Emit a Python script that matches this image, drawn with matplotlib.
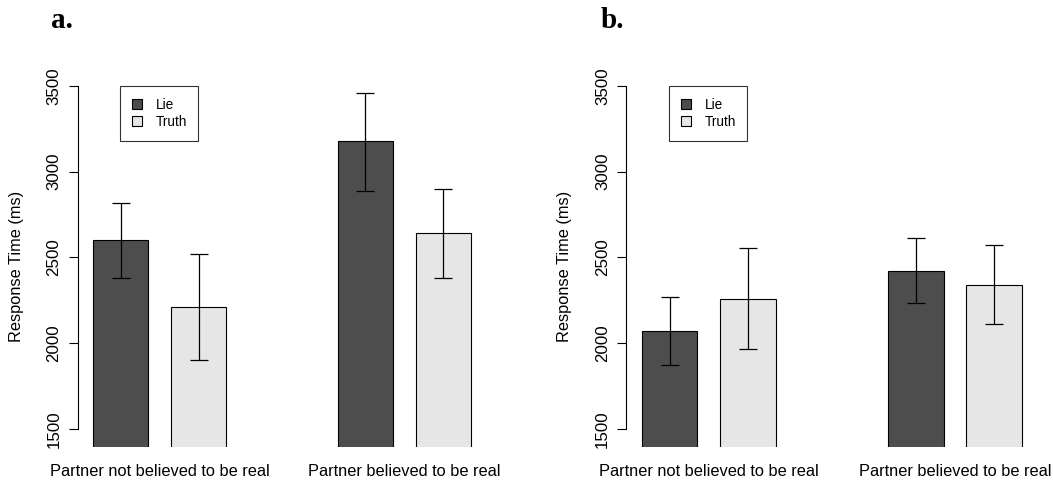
import matplotlib
matplotlib.use("Agg")
import matplotlib.pyplot as plt
from matplotlib.patches import Patch
from matplotlib.transforms import blended_transform_factory
import numpy as np

plt.rcParams['font.family'] = ['Liberation Sans', 'DejaVu Sans']

groups = ["Partner not believed to be real", "Partner believed to be real"]
series = ["Lie", "Truth"]
colors = ["#4d4d4d", "#e6e6e6"]

# panel a
a_means = [[2600, 3178], [2210, 2643]]          # [series][group]
a_lower = [[2378, 2889], [1903, 2382]]
a_upper = [[2819, 3462], [2518, 2900]]
# panel b
b_means = [[2068, 2422], [2258, 2339]]
b_lower = [[1869, 2231], [1966, 2109]]
b_upper = [[2268, 2611], [2552, 2571]]

yticks = [1500, 2000, 2500, 3000, 3500]
panel_labels = ["a.", "b."]

W, H = 1053, 482
fig = plt.figure(figsize=(W / 100, H / 100), dpi=100)

def px_axes(left, right, top, bottom):
    return fig.add_axes([left / W, (H - bottom) / H, (right - left) / W, (bottom - top) / H])

# R barplot positions: space within 0.4, between groups 2, width 1
space_in, space_between = 0.4, 2.0
centers = []
x = 0.0
for g in range(2):
    for s in range(2):
        x += space_between if (s == 0 and g > 0) else space_in
        centers.append((g, s, x + 0.5))
        x += 1.0
xmin_data = 0.4
xmax_data = x
rng = xmax_data - xmin_data
xlim = (xmin_data - 0.04 * rng, xmax_data + 0.04 * rng)

panels = [
    (a_means, a_lower, a_upper, 77.7, 408.6, 120, 51),
    (b_means, b_lower, b_upper, 626.3, 411.0, 669, 601),
]

for p, (means, lower, upper, axleft, axw, legx, labx) in enumerate(panels):
    ax = px_axes(axleft, axleft + axw, 86, 446.7)
    ax.set_xlim(*xlim)
    ax.set_ylim(1395, 3500)
    for (g, s, c) in centers:
        m = means[s][g]
        ax.bar(c, m, width=1.0, color=colors[s], edgecolor="black", linewidth=0.8, zorder=2)
        ax.errorbar(c, m, yerr=[[m - lower[s][g]], [upper[s][g] - m]], fmt="none",
                    ecolor="black", elinewidth=0.9, capsize=6.5, capthick=0.9, zorder=3)
    for sp in ["top", "right", "bottom"]:
        ax.spines[sp].set_visible(False)
    ax.spines["left"].set_bounds(1500, 3500)
    ax.spines["left"].set_linewidth(0.8)
    ax.set_yticks(yticks)
    ax.set_yticklabels([str(t) for t in yticks], rotation=90, va="center", fontsize=12.2)
    ax.tick_params(axis="y", length=6.8, width=0.8, pad=5)
    ax.set_xticks([])
    ax.set_ylabel("Response Time (ms)", fontsize=11.8)
    ax.yaxis.set_label_coords(-54.0 / axw, 0.5)
    tr = blended_transform_factory(ax.transData, fig.transFigure)
    for g in range(2):
        gc = np.mean([c for (gg, s, c) in centers if gg == g])
        ax.text(gc, (H - 471.5) / H, groups[g], transform=tr, ha="center", va="center",
                fontsize=11.8)
    handles = [Patch(facecolor=colors[i], edgecolor="black", linewidth=0.8, label=series[i])
               for i in range(2)]
    leg = ax.legend(handles=handles, loc="upper left",
                    bbox_to_anchor=(legx / W, (H - 86) / H), bbox_transform=fig.transFigure,
                    fontsize=9.8, frameon=True, fancybox=False, borderaxespad=0,
                    handlelength=0.75, handleheight=0.75, handletextpad=1.0,
                    borderpad=0.85, labelspacing=0.25)
    leg.get_frame().set_edgecolor("black")
    leg.get_frame().set_linewidth(0.8)
    fig.text(labx / W, (H - 20) / H, panel_labels[p], fontsize=21, fontweight="bold",
             family="Liberation Serif", ha="left", va="center")

fig.savefig("out.png", dpi=100)
